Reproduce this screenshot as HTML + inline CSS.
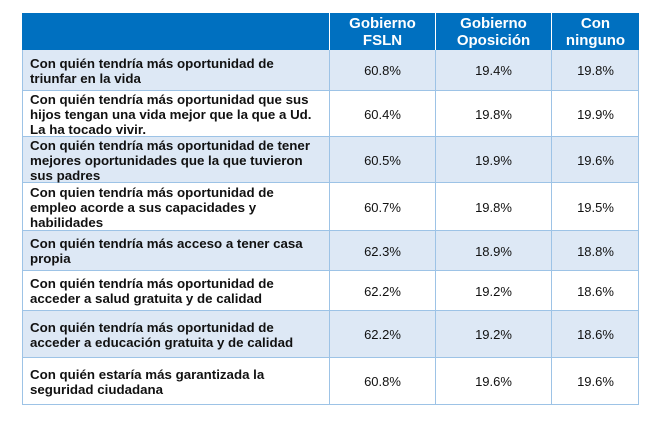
<!DOCTYPE html>
<html><head><style>
body{margin:0;width:665px;height:423px;background:#fff;position:relative;overflow:hidden;font-family:"Liberation Sans",Arial,sans-serif;}
.c{position:absolute;box-sizing:border-box;}
.lab{font-weight:bold;font-size:13.3px;line-height:15px;color:#111;padding:0 0 0 8px;display:flex;align-items:center;}
.val{font-size:13px;color:#111;display:flex;align-items:center;justify-content:center;}
.hd{color:#fff;font-weight:bold;font-size:15px;line-height:17px;text-align:center;padding-top:2px;}
</style></head><body>
<div class="c" style="left:22px;top:13px;width:617px;height:37px;background:#0070c0"></div>
<div class="c" style="left:329px;top:13px;width:1px;height:37px;background:#fff"></div>
<div class="c" style="left:435px;top:13px;width:1px;height:37px;background:#fff"></div>
<div class="c" style="left:551px;top:13px;width:1px;height:37px;background:#fff"></div>
<div class="c hd" style="left:330px;top:13px;width:105px">Gobierno<br>FSLN</div>
<div class="c hd" style="left:436px;top:13px;width:115px">Gobierno<br>Oposición</div>
<div class="c hd" style="left:552px;top:13px;width:87px">Con<br>ninguno</div>
<div id="rows"></div>
<script>
var rows=[
[50,91,"Con quién tendría más oportunidad de<br>triunfar en la vida","60.8%","19.4%","19.8%",1],
[91,137,"Con quién tendría más oportunidad que sus<br>hijos tengan una vida mejor que la que a Ud.<br>La ha tocado vivir.","60.4%","19.8%","19.9%",0],
[137,183,"Con quién tendría más oportunidad de tener<br>mejores oportunidades que la que tuvieron<br>sus padres","60.5%","19.9%","19.6%",1],
[183,231,"Con quien tendría más oportunidad de<br>empleo acorde a sus capacidades y<br>habilidades","60.7%","19.8%","19.5%",0],
[231,271,"Con quién tendría más acceso a tener casa<br>propia","62.3%","18.9%","18.8%",1],
[271,311,"Con quién tendría más oportunidad de<br>acceder a salud gratuita y de calidad","62.2%","19.2%","18.6%",0],
[311,358,"Con quién tendría más oportunidad de<br>acceder a educación gratuita y de calidad","62.2%","19.2%","18.6%",1],
[358,405,"Con quién estaría más garantizada la<br>seguridad ciudadana","60.8%","19.6%","19.6%",0]];
var h="";
rows.forEach(function(r){
var t=r[0],b=r[1],bg=r[6]?"#dde8f5":"#fff",ht=b-t;
h+='<div class="c" style="left:22px;top:'+t+'px;width:617px;height:'+ht+'px;background:'+bg+';border:1px solid #9dc3e6;border-top:none"></div>';
[330,436,552].forEach(function(x){h+='<div class="c" style="left:'+(x-1)+'px;top:'+t+'px;width:1px;height:'+ht+'px;background:#9dc3e6"></div>';});
h+='<div class="c lab" style="left:22px;top:'+t+'px;width:307px;height:'+ht+'px"><div>'+r[2]+'</div></div>';
h+='<div class="c val" style="left:330px;top:'+t+'px;width:105px;height:'+ht+'px">'+r[3]+'</div>';
h+='<div class="c val" style="left:436px;top:'+t+'px;width:115px;height:'+ht+'px">'+r[4]+'</div>';
h+='<div class="c val" style="left:552px;top:'+t+'px;width:87px;height:'+ht+'px">'+r[5]+'</div>';
});
document.getElementById("rows").innerHTML=h;
</script>
</body></html>
